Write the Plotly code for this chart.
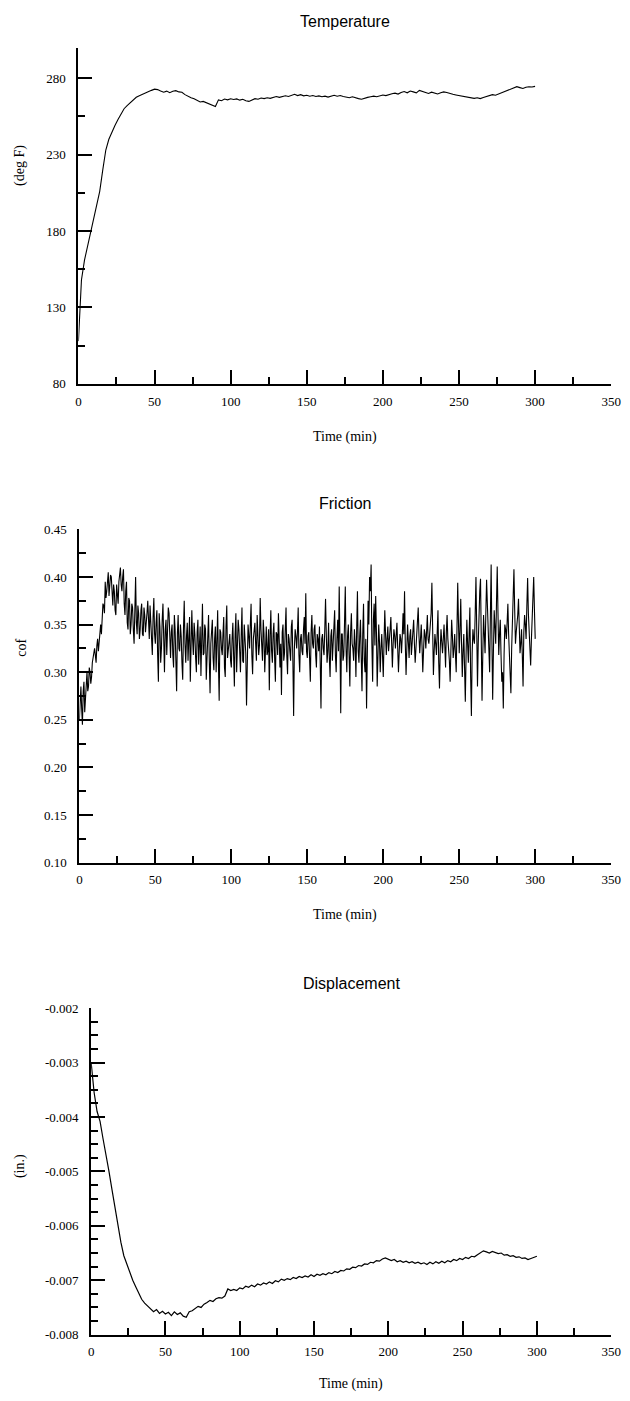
import plotly.graph_objects as go

# ---------------- data ----------------
# Temperature (deg F), sampled every 2 min from 0 to 300
temp_step = 2
temp_values = [
    108, 148, 161, 170, 180, 189, 197, 206, 220, 233,
    240, 245, 249, 253, 257, 260, 262, 264, 266, 267.5,
    268.5, 269.5, 270.5, 271, 272, 272.8, 272.5, 271.6, 270.8, 271.5,
    270.5, 271.4, 271.8, 271, 270.8, 269.2, 268, 267.2, 266.5, 265.2,
    264.4, 264.8, 264, 263.2, 262.6, 261.5, 265.8, 265.2, 266.3, 265.8,
    266.5, 266, 266.4, 265.6, 266.2, 265.2, 264.8, 265.6, 266.6, 266.2,
    267, 266.6, 267.2, 266.8, 267.6, 268, 267.4, 267.8, 268.5, 268,
    268.8, 269.4, 268.6, 269.2, 268.4, 268.8, 268.2, 268.6, 268, 268.4,
    267.8, 268.2, 267.6, 268.4, 268.8, 268.2, 268.6, 268, 267.6, 267.2,
    267.8, 267, 266.6, 266.2, 267, 267.4, 267.8, 268.2, 267.8, 268.6,
    269, 268.6, 269.4, 269.8, 270.2, 269.6, 270.6, 271.2, 270.4, 271.6,
    271, 270.4, 272, 271.2, 270.6, 270, 270.8, 270.2, 269.6, 270.4,
    271, 270.6, 269.8, 269.4, 269, 268.6, 268.2, 267.8, 267.4, 267,
    266.8, 267.2, 266.6, 267.4, 268, 268.6, 269.2, 268.8, 269.6, 270.4,
    271, 272.2, 272.8, 273.4, 274.4, 273.8, 273.2, 274, 274.4, 274.2,
    274.6,
]

# Friction coefficient at whole minutes (0 .. 300)
fric_whole = [
    0.250, 0.285, 0.245, 0.290, 0.275, 0.300, 0.285, 0.300, 0.295, 0.315,
    0.325, 0.310, 0.335, 0.330, 0.350, 0.365, 0.370, 0.395, 0.385, 0.405,
    0.390, 0.400, 0.370, 0.385, 0.360, 0.380, 0.395, 0.410, 0.385, 0.408,
    0.360, 0.395, 0.345, 0.375, 0.350, 0.368, 0.330, 0.400, 0.340, 0.362,
    0.345, 0.372, 0.338, 0.360, 0.350, 0.375, 0.335, 0.352, 0.318, 0.378,
    0.330, 0.365, 0.290, 0.348, 0.325, 0.372, 0.300, 0.355, 0.340, 0.362,
    0.315, 0.350, 0.305, 0.345, 0.280, 0.360, 0.322, 0.338, 0.292, 0.375,
    0.310, 0.352, 0.330, 0.290, 0.365, 0.318, 0.340, 0.300, 0.355, 0.326,
    0.296, 0.372, 0.320, 0.345, 0.310, 0.360, 0.278, 0.348, 0.315, 0.335,
    0.300, 0.365, 0.270, 0.342, 0.318, 0.358, 0.295, 0.370, 0.325, 0.340,
    0.305, 0.352, 0.285, 0.362, 0.320, 0.345, 0.300, 0.368, 0.310, 0.338,
    0.265, 0.350, 0.325, 0.372, 0.298, 0.345, 0.330, 0.360, 0.318, 0.378,
    0.330, 0.355, 0.300, 0.348, 0.322, 0.281, 0.365, 0.310, 0.352, 0.290,
    0.340, 0.362, 0.305, 0.276, 0.350, 0.320, 0.368, 0.298, 0.335, 0.312,
    0.355, 0.254, 0.345, 0.325, 0.368, 0.300, 0.340, 0.318, 0.358, 0.383,
    0.315, 0.342, 0.290, 0.360, 0.325, 0.350, 0.305, 0.335, 0.348, 0.262,
    0.340, 0.318, 0.377, 0.310, 0.352, 0.295, 0.345, 0.330, 0.365, 0.300,
    0.355, 0.390, 0.257, 0.340, 0.318, 0.390, 0.300, 0.350, 0.285, 0.362,
    0.325, 0.345, 0.295, 0.385, 0.310, 0.355, 0.280, 0.372, 0.300, 0.262,
    0.375, 0.400, 0.413, 0.290, 0.372, 0.380, 0.285, 0.350, 0.300, 0.340,
    0.295, 0.365, 0.318, 0.348, 0.330, 0.358, 0.305, 0.345, 0.325, 0.352,
    0.300, 0.340, 0.320, 0.362, 0.385, 0.297, 0.350, 0.315, 0.345, 0.330,
    0.355, 0.310, 0.338, 0.368, 0.320, 0.350, 0.300, 0.345, 0.325, 0.360,
    0.330, 0.352, 0.394, 0.297, 0.340, 0.318, 0.365, 0.283, 0.345, 0.320,
    0.350, 0.305, 0.360, 0.325, 0.290, 0.355, 0.315, 0.340, 0.300, 0.394,
    0.320, 0.377, 0.295, 0.340, 0.269, 0.355, 0.310, 0.368, 0.254, 0.345,
    0.330, 0.400, 0.285, 0.372, 0.398, 0.270, 0.360, 0.320, 0.397, 0.345,
    0.300, 0.413, 0.271, 0.365, 0.330, 0.411, 0.318, 0.355, 0.290, 0.262,
    0.350, 0.335, 0.372, 0.310, 0.278, 0.360, 0.408, 0.330, 0.350, 0.377,
    0.320, 0.345, 0.285, 0.360, 0.335, 0.399, 0.340, 0.307, 0.355, 0.400,
    0.335,
]

# Friction coefficient at half minutes (0.5 .. 299.5)
fric_half = [
    0.270, 0.262, 0.280, 0.258, 0.295, 0.280, 0.305, 0.288, 0.310, 0.322,
    0.318, 0.328, 0.322, 0.345, 0.340, 0.372, 0.362, 0.378, 0.398, 0.380,
    0.402, 0.378, 0.392, 0.365, 0.392, 0.372, 0.405, 0.392, 0.400, 0.372,
    0.385, 0.352, 0.378, 0.340, 0.372, 0.345, 0.365, 0.352, 0.370, 0.335,
    0.365, 0.340, 0.368, 0.342, 0.362, 0.345, 0.370, 0.330, 0.358, 0.340,
    0.352, 0.318, 0.362, 0.310, 0.355, 0.335, 0.345, 0.318, 0.368, 0.325,
    0.342, 0.318, 0.360, 0.312, 0.340, 0.325, 0.350, 0.310, 0.345, 0.330,
    0.338, 0.312, 0.358, 0.322, 0.335, 0.352, 0.315, 0.342, 0.308, 0.348,
    0.335, 0.318, 0.350, 0.292, 0.340, 0.312, 0.330, 0.355, 0.302, 0.348,
    0.328, 0.310, 0.345, 0.325, 0.340, 0.305, 0.348, 0.315, 0.338, 0.312,
    0.335, 0.318, 0.340, 0.300, 0.355, 0.322, 0.338, 0.312, 0.350, 0.320,
    0.315, 0.338, 0.350, 0.318, 0.335, 0.352, 0.312, 0.342, 0.328, 0.345,
    0.312, 0.340, 0.325, 0.318, 0.345, 0.338, 0.322, 0.340, 0.315, 0.342,
    0.318, 0.335, 0.330, 0.342, 0.312, 0.345, 0.318, 0.340, 0.322, 0.348,
    0.312, 0.325, 0.338, 0.342, 0.318, 0.335, 0.322, 0.345, 0.330, 0.322,
    0.338, 0.315, 0.342, 0.330, 0.345, 0.318, 0.340, 0.322, 0.310, 0.335,
    0.325, 0.345, 0.340, 0.322, 0.315, 0.338, 0.312, 0.348, 0.318, 0.335,
    0.322, 0.330, 0.340, 0.312, 0.352, 0.325, 0.338, 0.318, 0.342, 0.330,
    0.312, 0.330, 0.345, 0.322, 0.338, 0.315, 0.340, 0.312, 0.335, 0.318,
    0.350, 0.385, 0.330, 0.355, 0.328, 0.342, 0.318, 0.332, 0.325, 0.318,
    0.332, 0.340, 0.335, 0.322, 0.345, 0.318, 0.330, 0.338, 0.340, 0.325,
    0.322, 0.335, 0.338, 0.340, 0.330, 0.325, 0.332, 0.338, 0.318, 0.342,
    0.330, 0.325, 0.350, 0.338, 0.335, 0.328, 0.322, 0.340, 0.342, 0.335,
    0.340, 0.362, 0.345, 0.322, 0.330, 0.342, 0.310, 0.325, 0.332, 0.335,
    0.328, 0.342, 0.335, 0.312, 0.330, 0.338, 0.325, 0.318, 0.345, 0.352,
    0.345, 0.330, 0.322, 0.305, 0.318, 0.330, 0.340, 0.295, 0.320, 0.335,
    0.362, 0.345, 0.330, 0.385, 0.325, 0.318, 0.340, 0.362, 0.372, 0.322,
    0.360, 0.335, 0.322, 0.348, 0.372, 0.362, 0.340, 0.318, 0.300, 0.318,
    0.345, 0.352, 0.340, 0.298, 0.325, 0.382, 0.365, 0.342, 0.360, 0.345,
    0.330, 0.318, 0.342, 0.350, 0.370, 0.362, 0.325, 0.335, 0.380, 0.365,
]

# Displacement (in.), sampled every 2 min from 0 to 300
disp_step = 2
disp_values = [
    -0.00300, -0.00355, -0.00390, -0.00408, -0.00440, -0.00474, -0.00500, -0.00533, -0.00566, -0.00603,
    -0.00630, -0.00655, -0.00670, -0.00688, -0.00700, -0.00712, -0.00724, -0.00735, -0.00742, -0.00748,
    -0.00752, -0.00758, -0.00754, -0.00761, -0.00757, -0.00762, -0.00759, -0.00765, -0.00758, -0.00763,
    -0.00760, -0.00766, -0.00768, -0.00758, -0.00756, -0.00752, -0.00748, -0.00750, -0.00744, -0.00741,
    -0.00737, -0.00739, -0.00734, -0.00732, -0.00733, -0.00729, -0.00716, -0.00719, -0.00717, -0.00719,
    -0.00714, -0.00716, -0.00711, -0.00713, -0.00709, -0.00712, -0.00707, -0.00709, -0.00705, -0.00707,
    -0.00703, -0.00706, -0.00701, -0.00703, -0.00698, -0.00700, -0.00697, -0.00699, -0.00695, -0.00697,
    -0.00693, -0.00695, -0.00692, -0.00694, -0.00690, -0.00693, -0.00689, -0.00691, -0.00688, -0.00690,
    -0.00686, -0.00688, -0.00684, -0.00686, -0.00682, -0.00683, -0.00679, -0.00680, -0.00676, -0.00677,
    -0.00673, -0.00674, -0.00670, -0.00671, -0.00667, -0.00668, -0.00664, -0.00665, -0.00661, -0.00659,
    -0.00662, -0.00664, -0.00662, -0.00666, -0.00664, -0.00667, -0.00665, -0.00668, -0.00666, -0.00669,
    -0.00667, -0.00670, -0.00668, -0.00671, -0.00667, -0.00670, -0.00666, -0.00669, -0.00665, -0.00668,
    -0.00664, -0.00666, -0.00662, -0.00664, -0.00660, -0.00662, -0.00658, -0.00660, -0.00656, -0.00657,
    -0.00653, -0.00650, -0.00646, -0.00648, -0.00650, -0.00647, -0.00649, -0.00651, -0.00650, -0.00654,
    -0.00653, -0.00656, -0.00655, -0.00658, -0.00657, -0.00660, -0.00659, -0.00662, -0.00660, -0.00658,
    -0.00656,
]

# tick labels
x_ticks = [0, 50, 100, 150, 200, 250, 300, 350]
x_ticktext = ["0", "50", "100", "150", "200", "250", "300", "350"]
temp_ticks = [80, 130, 180, 230, 280]
temp_ticktext = ["80", "130", "180", "230", "280"]
fric_ticks = [0.10, 0.15, 0.20, 0.25, 0.30, 0.35, 0.40, 0.45]
fric_ticktext = ["0.10", "0.15", "0.20", "0.25", "0.30", "0.35", "0.40", "0.45"]
disp_ticks = [-0.008, -0.007, -0.006, -0.005, -0.004, -0.003, -0.002]
disp_ticktext = ["-0.008", "-0.007", "-0.006", "-0.005", "-0.004", "-0.003", "-0.002"]

titles = ["Temperature", "Friction", "Displacement"]
y_titles = ["(deg F)", "cof", "(in.)"]
x_title = "Time (min)"

temp_time = [i * temp_step for i in range(len(temp_values))]
disp_time = [i * disp_step for i in range(len(disp_values))]

# merge whole- and half-minute friction readings in time order
fric_time, fric_values = [], []
for i, v in enumerate(fric_whole):
    fric_time.append(i)
    fric_values.append(v)
    if i < len(fric_half):
        fric_time.append(i + 0.5)
        fric_values.append(fric_half[i])

# ---------------- figure ----------------
W, H = 630, 1401
SERIF = "Liberation Serif, Times New Roman, serif"
SANS = "Liberation Sans, Arial, sans-serif"

def px_x(p):
    return p / W

def px_y(p):
    return (H - p) / H

fig = go.Figure()
fig.add_trace(go.Scatter(x=temp_time, y=temp_values, mode="lines",
                         line=dict(color="black", width=1.1), xaxis="x", yaxis="y"))
fig.add_trace(go.Scatter(x=fric_time, y=fric_values, mode="lines",
                         line=dict(color="black", width=1.1), xaxis="x2", yaxis="y2"))
fig.add_trace(go.Scatter(x=disp_time, y=disp_values, mode="lines",
                         line=dict(color="black", width=1.2), xaxis="x3", yaxis="y3"))

# panel geometry (page pixels): left, right, top, bottom
panels = [
    (77, 621, 41, 381),
    (78, 621, 528, 865),
    (90, 621, 1012, 1342),
]

def xaxis_def(i, anchor):
    l, r, t, b = panels[i]
    return dict(
        domain=[px_x(l), px_x(r)], anchor=anchor, range=[0, 350],
        showline=True, linecolor="black", linewidth=2,
        showgrid=False, zeroline=False,
        ticks="inside", ticklen=14, tickwidth=2, tickcolor="black",
        tickmode="array", tickvals=x_ticks, ticktext=x_ticktext,
        minor=dict(ticks="inside", ticklen=7, tickwidth=2, tickcolor="black",
                   tickmode="linear", tick0=0, dtick=25, showgrid=False),
        tickfont=dict(family=SERIF, size=13, color="black"),
        ticklabelstandoff=4,
        ticklabeloverflow="allow",
    )

def yaxis_def(i, anchor, rng, tv, tt, mdt, mt0):
    l, r, t, b = panels[i]
    return dict(
        domain=[px_y(b), px_y(t)], anchor=anchor, range=rng,
        showline=True, linecolor="black", linewidth=2,
        showgrid=False, zeroline=False,
        ticks="inside", ticklen=14, tickwidth=2, tickcolor="black",
        tickmode="array", tickvals=tv, ticktext=tt,
        minor=dict(ticks="inside", ticklen=7, tickwidth=2, tickcolor="black",
                   tickmode="linear", tick0=mt0, dtick=mdt, showgrid=False),
        tickfont=dict(family=SERIF, size=13, color="black"),
        ticklabelstandoff=8,
        ticklabeloverflow="allow",
    )

fig.update_layout(
    width=W, height=H,
    margin=dict(l=0, r=0, t=0, b=0),
    paper_bgcolor="white", plot_bgcolor="white",
    showlegend=False,
    xaxis=xaxis_def(0, "y"),
    xaxis2=xaxis_def(1, "y2"),
    xaxis3=xaxis_def(2, "y3"),
    yaxis=yaxis_def(0, "x", [80, 300], temp_ticks, temp_ticktext, 25, 80),
    yaxis2=yaxis_def(1, "x2", [0.10, 0.45], fric_ticks, fric_ticktext, 0.025, 0.10),
    yaxis3=yaxis_def(2, "x3", [-0.008, -0.002], disp_ticks, disp_ticktext, 0.00025, -0.008),
)

annotations = []
title_y = [15, 502, 987]
xlabel_y = [435, 918, 1392]
ylabel_y = [160, 648, 1172]
for i in range(3):
    l, r, t, b = panels[i]
    cx = px_x((l + r) / 2)
    annotations.append(dict(text=titles[i], x=cx, y=px_y(title_y[i]), xref="paper", yref="paper",
                            xanchor="center", yanchor="middle", showarrow=False,
                            font=dict(family=SANS, size=16, color="black")))
    annotations.append(dict(text=x_title, x=cx, y=px_y(xlabel_y[i]), xref="paper", yref="paper",
                            xanchor="center", yanchor="middle", showarrow=False,
                            font=dict(family=SERIF, size=14, color="black")))
    annotations.append(dict(text=y_titles[i], x=px_x(18), y=px_y(ylabel_y[i]), xref="paper", yref="paper",
                            xanchor="center", yanchor="middle", showarrow=False, textangle=-90,
                            font=dict(family=SERIF, size=14, color="black")))
fig.update_layout(annotations=annotations)

# remove the default page margin so the figure fills the 630x1401 window exactly
fig.write_html(
    "out.html",
    config={"displayModeBar": False},
    post_script="document.body.style.margin='0';document.body.style.overflow='hidden';",
)
